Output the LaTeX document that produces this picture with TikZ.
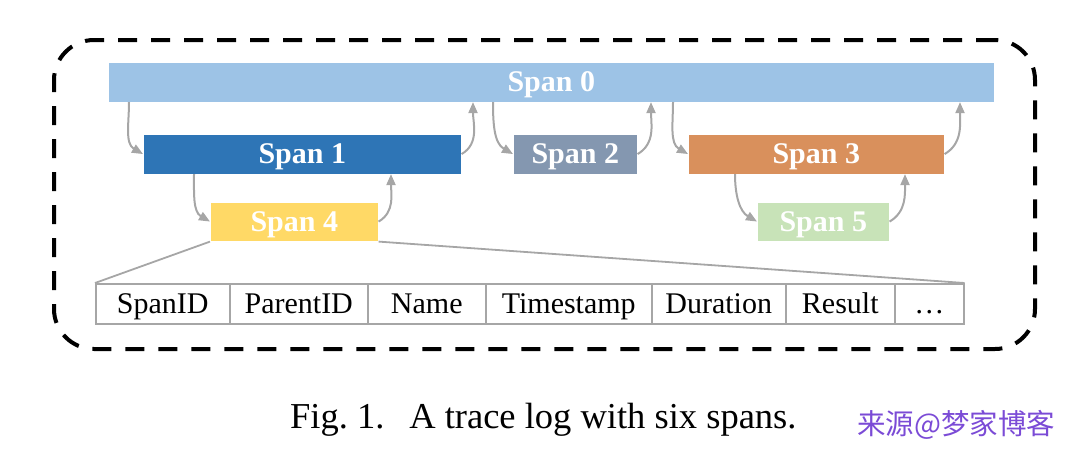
\documentclass[tikz,border=0pt]{standalone}
\usepackage{fontspec}
\setmainfont{Liberation Serif}
\newfontfamily\cjk{Noto Sans CJK SC}
\usetikzlibrary{arrows.meta}
\definecolor{czero}{HTML}{9DC3E6}
\definecolor{cone}{HTML}{2E75B6}
\definecolor{ctwo}{HTML}{8497B0}
\definecolor{cthree}{HTML}{D9905C}
\definecolor{cfour}{HTML}{FFD966}
\definecolor{cfive}{HTML}{C8E3B8}
\definecolor{arr}{HTML}{A6A6A6}
\definecolor{wm}{HTML}{7B4BD6}
\begin{document}
\begin{tikzpicture}[x=1pt,y=-1pt,
  spanbox/.style={anchor=north west, inner sep=0pt, minimum height=39.5pt,
    draw=white, line width=0.6pt, text=white, text height=26.4pt, text depth=6.6pt,
    font=\fontsize{30}{30}\selectfont\bfseries},
  conn/.style={draw=arr, line width=2pt, -{Triangle[length=11pt,width=9pt]}},
  cell/.style={anchor=north west, draw=arr, line width=1.5pt, inner sep=0pt,
    minimum height=40pt, text height=26.4pt, text depth=6.6pt,
    font=\fontsize{30}{30}\selectfont},
  zoomline/.style={draw=arr, line width=1.8pt},
  framebox/.style={anchor=north west, draw=black, line width=4pt,
    dash pattern=on 19pt off 14pt, rounded corners=40pt, inner sep=0pt}
]
\useasboundingbox (0,0) rectangle (1076,464);

% outer dashed frame
\node[framebox, minimum width=981pt, minimum height=309pt] (frame) at (52,38) {};

% spans
\node[spanbox, fill=czero, minimum width=886pt] (s0) at (108,62) {Span 0};
\node[spanbox, fill=cone, minimum width=318pt] (s1) at (143,134) {Span 1};
\node[spanbox, fill=ctwo, minimum width=124pt] (s2) at (513,134) {Span 2};
\node[spanbox, fill=cthree, minimum width=256pt] (s3) at (688,134) {Span 3};
\node[spanbox, fill=cfour, minimum width=168pt] (s4) at (210,201.5) {Span 4};
\node[spanbox, fill=cfive, minimum width=132pt] (s5) at (757,201.5) {Span 5};

% call / return arrows
\draw[conn] ([xshift=21pt]s0.south west) to[out=-90,in=150] (s1.west);
\draw[conn] (s1.east) to[out=30,in=-90] ([xshift=365pt]s0.south west);
\draw[conn] ([xshift=385pt]s0.south west) to[out=-90,in=150] (s2.west);
\draw[conn] (s2.east) to[out=30,in=-90] ([xshift=543pt]s0.south west);
\draw[conn] ([xshift=565pt]s0.south west) to[out=-90,in=150] (s3.west);
\draw[conn] (s3.east) to[out=30,in=-90] ([xshift=852pt]s0.south west);
\draw[conn] ([xshift=51pt]s1.south west) to[out=-90,in=150] (s4.west);
\draw[conn] (s4.east) to[out=30,in=-90] ([xshift=248pt]s1.south west);
\draw[conn] ([xshift=47pt]s3.south west) to[out=-90,in=150] (s5.west);
\draw[conn] (s5.east) to[out=30,in=-90] ([xshift=217pt]s3.south west);

% table of fields
\node[cell, minimum width=134pt] (t1) at (95,283) {SpanID};
\node[cell, minimum width=138pt] (t2) at (229,283) {ParentID};
\node[cell, minimum width=118pt] (t3) at (367,283) {Name};
\node[cell, minimum width=166pt] (t4) at (485,283) {Timestamp};
\node[cell, minimum width=134pt] (t5) at (651,283) {Duration};
\node[cell, minimum width=109pt] (t6) at (785,283) {Result};
\node[cell, minimum width=69pt] (t7) at (894,283) {…};

% zoom lines
\draw[zoomline] (s4.south west) -- (t1.north west);
\draw[zoomline] (s4.south east) -- (t7.north east);

% caption and watermark
\node[anchor=base west, inner sep=0pt, font=\fontsize{36.5}{40}\selectfont] (cap) at (290,428)
  {Fig.~1.\hspace{0.68em}A trace log with six spans.};
\node[anchor=base west, inner sep=0pt, text=wm, font=\cjk\fontsize{28.5}{31}\selectfont] (wmk) at (857,434)
  {来源@梦家博客};
\end{tikzpicture}
\end{document}
